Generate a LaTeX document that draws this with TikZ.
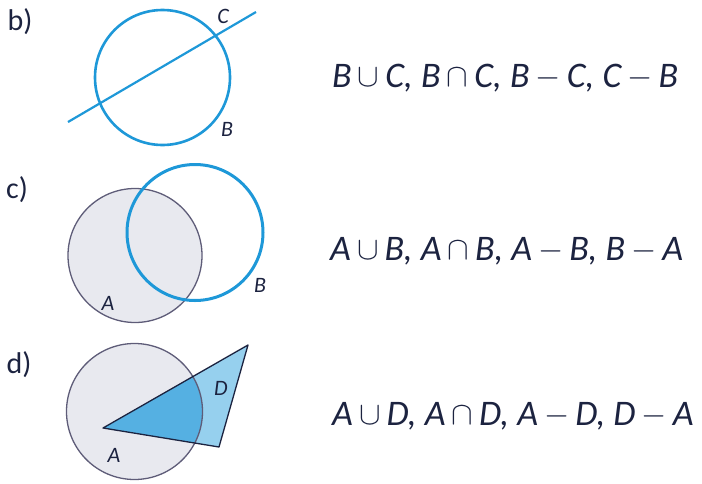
\documentclass[tikz,border=0pt]{standalone}
\usepackage{fontspec}
\setmainfont{Carlito}
\usetikzlibrary{positioning}
\definecolor{setblue}{HTML}{1E98D8}
\definecolor{setgray}{HTML}{E8E9EF}
\definecolor{setedge}{HTML}{5E5C78}
\definecolor{trilight}{HTML}{96D0EE}
\definecolor{tridark}{HTML}{55B0E2}
\definecolor{ink}{HTML}{1C2340}
\newcommand{\setop}[1]{\,\raisebox{0.5pt}{\scalebox{1.3}{$#1$}}\,}
\tikzset{
  partlbl/.style={font=\fontsize{30}{34}\selectfont, text=ink, inner sep=0pt},
  setlbl/.style={font=\fontsize{22}{26}\selectfont\itshape, text=ink, inner sep=0pt},
  opline/.style={font=\fontsize{36}{40}\selectfont\itshape, text=ink, anchor=west, inner sep=0pt},
  blueset/.style={draw=setblue, line width=2.6pt},
  grayset/.style={draw=setedge, fill=setgray, line width=1.3pt}
}
\begin{document}
\begin{tikzpicture}[x=1pt, y=-1pt]
  \useasboundingbox (0,0) rectangle (702,483);

  % ---- b) circle B and line C ----------------------------------------------
  \node[partlbl] (pb) at (20,22) {b)};
  \coordinate (cB) at (162.5,77.5);
  \coordinate (lC1) at (68,122);
  \coordinate (lC2) at (256,12);
  \draw[blueset] (cB) circle[radius=67.5];
  \draw[blueset, line width=2.2pt] (lC1) -- (lC2);
  \node[setlbl] (tC) at (223,16) {C};
  \node[setlbl] (tB) at (227,129) {B};
  \node[opline] (opb) at (332,78)
    {B\setop{\cup}C, B\setop{\cap}C, B\setop{-}C, C\setop{-}B};

  % ---- c) circles A and B ----------------------------------------------------
  \node[partlbl] (pc) at (17,190) {c)};
  \coordinate (cA1) at (135,255.5);
  \coordinate (cB1) at (195,232.5);
  \draw[grayset] (cA1) circle[radius=67];
  \draw[blueset, line width=3pt] (cB1) circle[radius=68];
  \node[setlbl] (tA1) at (108,303) {A};
  \node[setlbl] (tB1) at (260,285) {B};
  \node[opline] (opc) at (330,251)
    {A\setop{\cup}B, A\setop{\cap}B, A\setop{-}B, B\setop{-}A};

  % ---- d) circle A and triangle D -------------------------------------------
  \node[partlbl] (pd) at (19,365) {d)};
  \coordinate (cA2) at (134.5,411.5);
  \coordinate (d1) at (103,428);
  \coordinate (d2) at (248,345);
  \coordinate (d3) at (219,447);
  \fill[setgray] (cA2) circle[radius=68];
  \fill[trilight] (d1) -- (d2) -- (d3) -- cycle;
  \begin{scope}
    \clip (cA2) circle[radius=68];
    \fill[tridark] (d1) -- (d2) -- (d3) -- cycle;
  \end{scope}
  \draw[setedge, line width=1.3pt] (cA2) circle[radius=68];
  \draw[ink, line width=1.3pt, line join=round] (d1) -- (d2) -- (d3) -- cycle;
  \node[setlbl] (tD) at (221,388) {D};
  \node[setlbl] (tA2) at (114,455) {A};
  \node[opline] (opd) at (332,416)
    {A\setop{\cup}D, A\setop{\cap}D, A\setop{-}D, D\setop{-}A};
\end{tikzpicture}
\end{document}
